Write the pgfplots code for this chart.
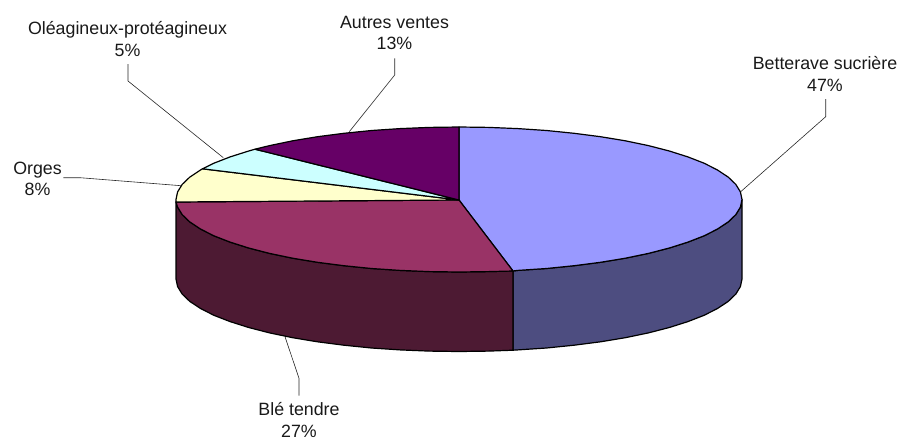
\documentclass[border=0pt]{standalone}
\usepackage{pgfplots}
\pgfplotsset{compat=1.18}
\usepackage{fontspec}
\setmainfont{Liberation Sans}
\definecolor{cBlue}{HTML}{9999FF}
\definecolor{cBlueS}{HTML}{4D4D80}
\definecolor{cMar}{HTML}{993366}
\definecolor{cMarS}{HTML}{4D1A33}
\definecolor{cYel}{HTML}{FFFFCC}
\definecolor{cCya}{HTML}{CCFFFF}
\definecolor{cPur}{HTML}{660066}
\tikzset{
  pieface/.style={draw=black,line width=1.2pt,line join=round,line cap=round},
  leader/.style={draw=black!85,line width=0.6pt},
  lab/.style={align=center,inner sep=0pt,text=black!90,font=\fontsize{17.8}{21.7}\selectfont},
}
\begin{document}
\begin{tikzpicture}
\begin{axis}[
  width=901pt,height=439pt,scale only axis,
  xmin=0,xmax=901,ymin=0,ymax=439,y dir=reverse,
  hide axis,clip=false,
]
% side walls
\addplot[pieface,fill=cBlueS,no marks] coordinates {
(742,199.5)(740.4,207.1)(735.8,214.6)(728.2,221.9)(717.5,229)(704.1,235.8)(687.9,242.1)(669.3,248)(648.4,253.4)(625.3,258.2)(600.5,262.3)(574.1,265.7)(546.5,268.5)(517.8,270.4)(513,271)
(513,350.2)(517.8,349.9)(546.5,348)(574.1,345.2)(600.5,341.8)(625.3,337.7)(648.4,332.9)(669.3,327.5)(687.9,321.6)(704.1,315.3)(717.5,308.5)(728.2,301.4)(735.8,294.1)(740.4,286.6)(742,279)
} -- cycle;
\addplot[pieface,fill=cMarS,no marks] coordinates {
(513,271)(488.6,271.6)(459,272)(429.4,271.6)(400.2,270.4)(371.5,268.5)(343.9,265.7)(317.5,262.3)(292.7,258.2)(269.6,253.4)(248.7,248)(230.1,242.1)(213.9,235.8)(200.5,229)(189.8,221.9)(182.2,214.6)(177.6,207.1)(176,202)
(176,279)(177.6,286.6)(182.2,294.1)(189.8,301.4)(200.5,308.5)(213.9,315.3)(230.1,321.6)(248.7,327.5)(269.6,332.9)(292.7,337.7)(317.5,341.8)(343.9,345.2)(371.5,348)(400.2,349.9)(429.4,351.1)(459,351.5)(488.6,351.1)(513,350.2)
} -- cycle;
% top faces
\addplot[pieface,fill=cBlue,no marks] coordinates {
(459,200)(459,127)(488.6,127.4)(517.8,128.6)(546.5,130.5)(574.1,133.3)(600.5,136.7)(625.3,140.8)(648.4,145.6)(669.3,151)(687.9,156.9)(704.1,163.2)(717.5,170)(728.2,177.1)(735.8,184.4)(740.4,191.9)(742,199.5)(740.4,207.1)(735.8,214.6)(728.2,221.9)(717.5,229)(704.1,235.8)(687.9,242.1)(669.3,248)(648.4,253.4)(625.3,258.2)(600.5,262.3)(574.1,265.7)(546.5,268.5)(517.8,270.4)(513,271)
} -- cycle;
\addplot[pieface,fill=cMar,no marks] coordinates {
(459,200)(513,271)(488.6,271.6)(459,272)(429.4,271.6)(400.2,270.4)(371.5,268.5)(343.9,265.7)(317.5,262.3)(292.7,258.2)(269.6,253.4)(248.7,248)(230.1,242.1)(213.9,235.8)(200.5,229)(189.8,221.9)(182.2,214.6)(177.6,207.1)(176,202)
} -- cycle;
\addplot[pieface,fill=cYel,no marks] coordinates {
(459,200)(176,202)(176,199.5)(177.6,191.9)(182.2,184.4)(189.8,177.1)(200.5,170)(202.5,168.8)
} -- cycle;
\addplot[pieface,fill=cCya,no marks] coordinates {
(459,200)(202.5,168.8)(213.9,163.2)(230.1,156.9)(248.7,151)(255,149.2)
} -- cycle;
\addplot[pieface,fill=cPur,no marks] coordinates {
(459,200)(255,149.2)(269.6,145.6)(292.7,140.8)(317.5,136.7)(343.9,133.3)(371.5,130.5)(400.2,128.6)(429.4,127.4)(459,127)
} -- cycle;
% leader lines
\addplot[leader,no marks] coordinates {(740.7,191.7)(825.7,116.7)(825.7,99)};
\addplot[leader,no marks] coordinates {(349.3,131.7)(394.7,75)(394.7,58.3)};
\addplot[leader,no marks] coordinates {(223.3,157.7)(128,81)(128,64)};
\addplot[leader,no marks] coordinates {(181,185.7)(80,177.7)(63.3,177.7)};
\addplot[leader,no marks] coordinates {(285,336.7)(299,378.3)(299,395.7)};
% labels
\node[lab] at (axis cs:825,74) {Betterave sucrière\\47\%};
\node[lab] at (axis cs:394.5,33) {Autres ventes\\13\%};
\node[lab] at (axis cs:127.5,39) {Oléagineux-protéagineux\\5\%};
\node[lab] at (axis cs:37.5,179) {Orges\\8\%};
\node[lab] at (axis cs:299,420) {Blé tendre\\27\%};
\end{axis}
\path (current axis.south west) rectangle (current axis.north east);
\end{tikzpicture}
\end{document}
